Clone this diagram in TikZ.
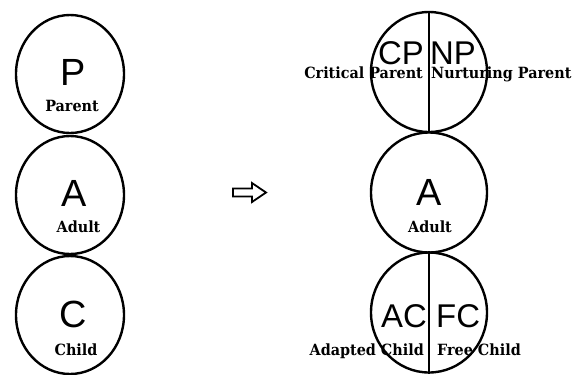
\documentclass[tikz,border=0pt]{standalone}
\usepackage{fontspec}
\newfontfamily\egofont{Liberation Sans}
\newfontfamily\namefont[FakeStretch=0.93]{DejaVu Serif}
\usetikzlibrary{shapes.geometric}

\begin{document}
\begin{tikzpicture}[x=1bp, y=-1bp,
	leftego/.style = {draw, ellipse, line width=2.4bp, minimum width=108bp, minimum height=118bp, inner sep=0pt},
	rightego/.style = {draw, ellipse, line width=2.4bp, minimum width=116bp, minimum height=120bp, inner sep=0pt},
	bigletter/.style = {font=\egofont\fontsize{38}{38}\selectfont, inner sep=0pt, anchor=base},
	pairletter/.style = {font=\egofont\fontsize{33}{33}\selectfont, inner sep=0pt, anchor=base},
	egoname/.style = {font=\namefont\bfseries\fontsize{15.5}{15.5}\selectfont, inner sep=0pt, anchor=base},
	divider/.style = {line width=1.3bp}]
	\useasboundingbox (0,0) rectangle (572,374);
	\node[leftego] (P) at (70, 74) {};
	\node[leftego] (A) at (70, 195) {};
	\node[leftego] (C) at (70, 315) {};
	\node[bigletter] (Pletter) at (73.5, 85) {P};
	\node[bigletter] (Aletter) at (74, 206) {A};
	\node[bigletter] (Cletter) at (73, 327) {C};
	\node[egoname] (Pname) at (72, 111) {Parent};
	\node[egoname] (Aname) at (78.5, 232) {Adult};
	\node[egoname] (Cname) at (76, 355) {Child};
	\draw[line width=1.8bp, line join=miter] (233, 188.5) -- (252, 188.5) -- (252, 183) -- (266, 192.5) -- (252, 202) -- (252, 196.5) -- (233, 196.5) -- cycle;
	\node[rightego] (CPNP) at (429, 72) {};
	\node[rightego] (A2) at (429, 192.5) {};
	\node[rightego] (ACFC) at (429, 312.5) {};
	\draw[divider] (CPNP.north) -- (CPNP.south);
	\draw[divider] (ACFC.north) -- (ACFC.south);
	\node[pairletter, anchor=base east] (CP) at (424, 64) {CP};
	\node[pairletter, anchor=base west] (NP) at (430, 64) {NP};
	\node[egoname, anchor=base east] (CPname) at (423, 78) {Critical Parent};
	\node[egoname, anchor=base west] (NPname) at (431, 78) {Nurturing Parent};
	\node[bigletter] (A2letter) at (429.5, 205) {A};
	\node[egoname] (A2name) at (430, 232) {Adult};
	\node[pairletter, anchor=base east] (AC) at (427, 327) {AC};
	\node[pairletter, anchor=base west] (FC) at (436, 327) {FC};
	\node[egoname, anchor=base east] (ACname) at (424, 355) {Adapted Child};
	\node[egoname, anchor=base west] (FCname) at (437, 355) {Free Child};
\end{tikzpicture}
\end{document}
